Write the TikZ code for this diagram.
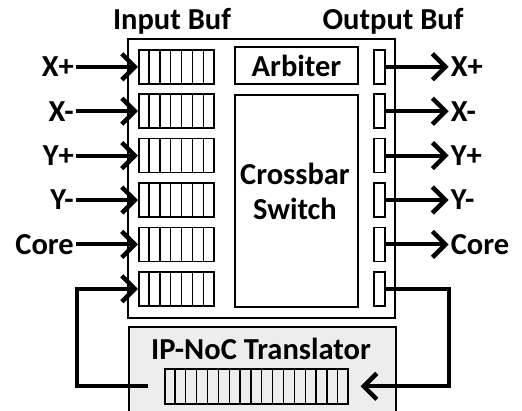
\documentclass[tikz,border=0pt]{standalone}
\usepackage{fontspec}
\setmainfont{Carlito}
\usetikzlibrary{arrows.meta,positioning,calc}
\definecolor{TrnFill}{HTML}{EDEDED}
\tikzset{
  every picture/.append style={font=\fontsize{30.5}{32}\selectfont\bfseries},
  blk/.style={rectangle, draw=black, line width=2pt, inner sep=0pt, anchor=north west},
  ibuf/.style={blk, line width=1.6pt, minimum width=75pt, minimum height=34pt},
  obuf/.style={blk, line width=1.6pt, minimum width=11pt, minimum height=34pt},
  cell/.style={line width=1.3pt},
  lbl/.style={inner sep=2pt},
  flow/.style={-{Straight Barb[length=13pt,width=26pt,line width=4.5pt]}, line width=4pt},
}
\begin{document}
\begin{tikzpicture}[x=1pt,y=-1pt]
\clip (0,0) rectangle (522,410);
\fill[white] (0,0) rectangle (522,410);

% ---------------- frames --------------------------------------------------
\node[blk, minimum width=267pt, minimum height=279pt] (router) at (127,38) {};
\node[blk, fill=TrnFill, minimum width=267pt, minimum height=100pt] (trans) at (128,326) {};
\node (inhdr) at (172,21) {Input Buf};
\node (outhdr) at (393,21) {Output Buf};

% ---------------- arbiter and crossbar ------------------------------------
\node[blk, minimum width=123pt, minimum height=37pt] (arb) at (234,46) {Arbiter};
\node[blk, minimum width=123pt, minimum height=212pt] (xbar) at (234,94) {};
\node[align=center] (xbartxt) at (295,191) {Crossbar\\[3pt]Switch};

% ---------------- buffers -------------------------------------------------
\foreach \i in {1,...,6}{
  \node[ibuf] (in\i) at (138,{49+44.4*(\i-1)}) {};
  \foreach \k in {1,...,6}
    \draw[cell] ($(in\i.north west)!\k/7!(in\i.north east)$) -- ($(in\i.south west)!\k/7!(in\i.south east)$);
  \node[obuf] (out\i) at (373,{49+44.4*(\i-1)}) {};
}

% ---------------- ports ---------------------------------------------------
\foreach \t [count=\i] in {X+,X-,Y+,Y-,Core}{
  \node[lbl, anchor=east] (il\i) at ($(in\i.west)+(-62,0)$) {\t};
  \draw[flow] (il\i.east) -- (in\i.west);
  \node[lbl, anchor=west] (ol\i) at ($(out\i.east)+(63,0)$) {\t};
  \draw[flow] (out\i.east) -- (ol\i.west);
}

% ---------------- translator ----------------------------------------------
\node (transtxt) at (261,349) {IP-NoC Translator};
\node[blk, line width=1.6pt, minimum width=183pt, minimum height=35pt] (tbuf) at (164,368) {};
\foreach \k in {1,...,16}
  \draw[cell] ($(tbuf.north west)!\k/17!(tbuf.north east)$) -- ($(tbuf.south west)!\k/17!(tbuf.south east)$);
\coordinate[left=16pt of tbuf.west] (tl);
\coordinate[right=12pt of tbuf.east] (tr);
\draw[flow] (tl) -- ++(-71,0) |- (in6.west);
\draw[flow] (out6.east) -- ++(63,0) |- (tr);

\end{tikzpicture}
\end{document}
